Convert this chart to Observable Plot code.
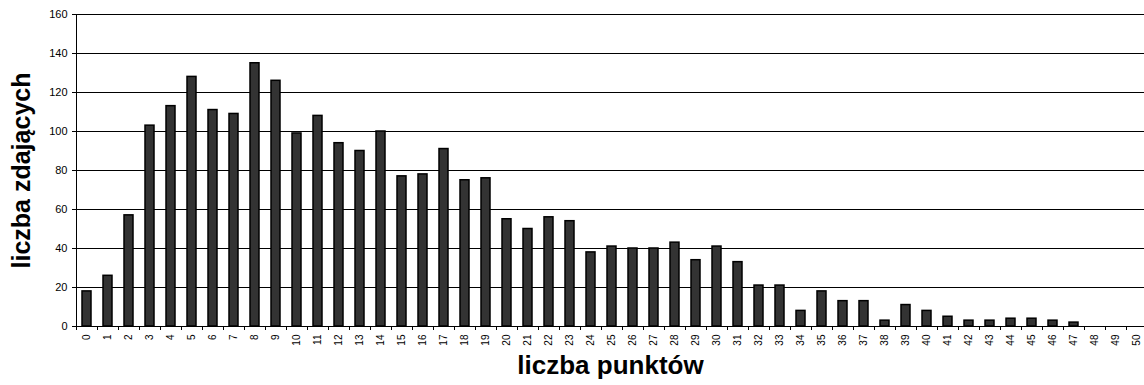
<!DOCTYPE html>
<html>
<head>
<meta charset="utf-8">
<script src="https://cdn.jsdelivr.net/npm/d3@7"></script>
<script src="https://cdn.jsdelivr.net/npm/@observablehq/plot@0.6"></script>
<style>
  html, body { margin: 0; padding: 0; background: #fff; overflow: hidden; }
  #chart svg { display: block; overflow: hidden; }
</style>
</head>
<body>
<div id="chart"></div>
<script>
const points = d3.range(0, 51).map(String);
const counts = [18, 26, 57, 103, 113, 128, 111, 109, 135, 126,
                99, 108, 94, 90, 100, 77, 78, 91, 75, 76,
                55, 50, 56, 54, 38, 41, 40, 40, 43, 34,
                41, 33, 21, 21, 8, 18, 13, 13, 3, 11,
                8, 5, 3, 3, 4, 4, 3, 2, 0, 0, 0];
const yTicks = [0, 20, 40, 60, 80, 100, 120, 140, 160];
const xLabel = "liczba punktów";
const yLabel = "liczba zdających";

const data = points.map((p, i) => ({p, n: counts[i]}));

const chart = Plot.plot({
  width: 1144,
  height: 385,
  marginTop: 14,
  marginBottom: 59,
  marginLeft: 76,
  marginRight: 0,
  style: {fontFamily: "'Liberation Sans', Arial, sans-serif", background: "#fff", color: "#000"},
  x: {domain: points, range: [76, 1147], paddingInner: 0.55, paddingOuter: 0.275, label: null},
  y: {domain: [0, 160], label: null},
  marks: [
    Plot.ruleY(yTicks.filter(d => d > 0), {stroke: "#000", strokeWidth: 1}),
    Plot.barY(data.filter(d => d.n > 0), {x: "p", y: "n", fill: "#333", stroke: "#000", strokeWidth: 1.5}),
    Plot.ruleY([0], {stroke: "#000", strokeWidth: 1}),
    Plot.ruleX([0], {x: () => points[0], dx: -10.5, y1: 0, y2: 160, stroke: "#000"}),
    Plot.axisY({ticks: yTicks, tickSize: 4, tickPadding: 5, fontSize: 11, label: null}),
    Plot.axisX({tickSize: 4, tickFormat: () => "", dx: -10.5, label: null}),
    Plot.axisX({tickSize: 0, tickPadding: 8, tickRotate: -90, fontSize: 10, label: null}),
    Plot.text([yLabel], {frameAnchor: "left", dx: -55, rotate: -90, fontSize: 25, fontWeight: "bold", textAnchor: "middle"}),
    Plot.text([xLabel], {frameAnchor: "bottom", dy: 47, fontSize: 26, fontWeight: "bold", textAnchor: "middle"})
  ]
});
document.getElementById("chart").appendChild(chart);
</script>
</body>
</html>
